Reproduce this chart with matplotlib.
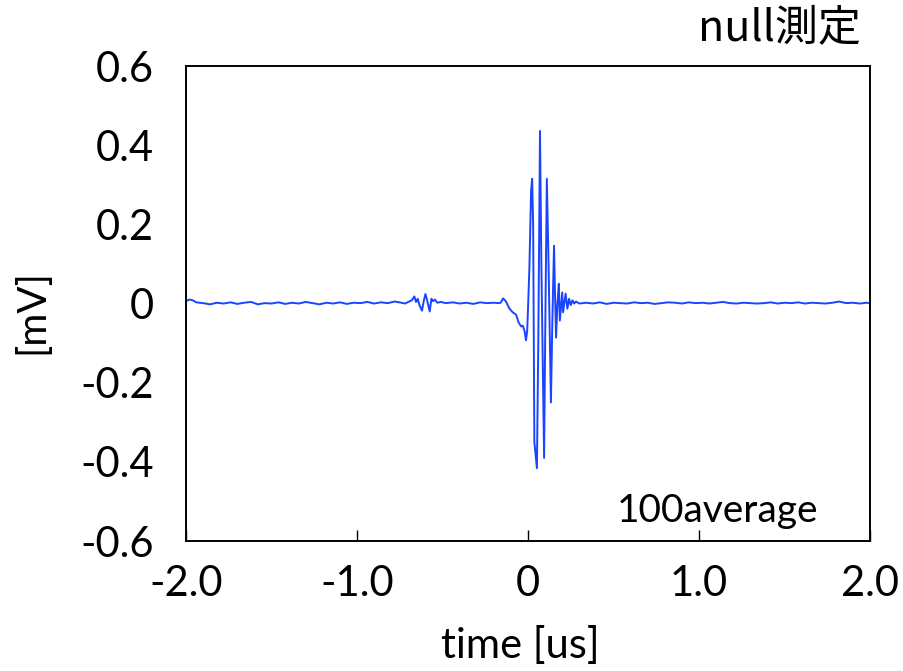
import matplotlib
matplotlib.use("Agg")
import matplotlib.pyplot as plt
from matplotlib.ticker import FixedLocator, FixedFormatter

# ---- data ----
time_us = [
    -2.00, -1.98, -1.96, -1.94, -1.90, -1.86, -1.82, -1.78, -1.74, -1.70, -1.66, -1.62,
    -1.58, -1.54, -1.50, -1.46, -1.42, -1.38, -1.34, -1.30, -1.26, -1.22, -1.18, -1.14,
    -1.10, -1.06, -1.02, -0.98, -0.94, -0.90, -0.86, -0.82, -0.78, -0.74,
    -0.72, -0.70, -0.68, -0.665, -0.655, -0.645, -0.635, -0.62, -0.61, -0.60, -0.59,
    -0.575, -0.565, -0.555, -0.545, -0.53, -0.51,
    -0.48, -0.44, -0.40, -0.36, -0.32, -0.28, -0.24, -0.20, -0.17,
    -0.16, -0.146, -0.13, -0.11, -0.09, -0.07, -0.055, -0.04, -0.03, -0.02, -0.012,
    -0.005, 0.000, 0.008, 0.018, 0.024, 0.030, 0.037, 0.052, 0.060, 0.070, 0.078,
    0.094, 0.100, 0.110, 0.120, 0.134, 0.142, 0.152, 0.158, 0.164, 0.172, 0.180,
    0.186, 0.200, 0.205, 0.220, 0.230, 0.240, 0.250, 0.260, 0.270, 0.280, 0.300,
    0.34, 0.38, 0.42, 0.46, 0.50, 0.54, 0.58, 0.62, 0.66, 0.70, 0.74, 0.78, 0.82,
    0.86, 0.90, 0.94, 0.98, 1.02, 1.06, 1.10, 1.14, 1.18, 1.22, 1.26, 1.30, 1.34,
    1.38, 1.42, 1.46, 1.50, 1.54, 1.58, 1.62, 1.66, 1.70, 1.74, 1.78, 1.82, 1.86,
    1.90, 1.94, 1.98, 2.00,
]
signal_mV = [
    0.006, 0.010, 0.008, 0.003, 0.001, -0.002, 0.002, 0.000, 0.003, -0.001, 0.002, 0.004,
    -0.002, 0.001, 0.000, 0.003, -0.001, 0.002, 0.000, 0.004, 0.001, -0.002, 0.002, 0.000,
    0.003, -0.001, 0.002, 0.001, 0.004, 0.000, 0.003, 0.001, 0.005, 0.002,
    0.000, 0.004, 0.008, 0.018, 0.004, 0.012, -0.004, -0.018, 0.006, 0.024, 0.008,
    -0.020, 0.012, 0.006, 0.010, 0.002, 0.004,
    0.001, 0.003, 0.000, 0.002, -0.001, 0.003, 0.001, 0.002, 0.001,
    0.002, 0.013, 0.006, -0.012, -0.022, -0.028, -0.048, -0.058, -0.056, -0.070, -0.093,
    -0.070, -0.012, 0.090, 0.285, 0.315, 0.200, -0.350, -0.416, -0.100, 0.436, 0.100,
    -0.390, -0.100, 0.315, 0.100, -0.250, -0.050, 0.146, 0.020, -0.086, 0.000, 0.050,
    -0.043, 0.028, -0.022, 0.025, -0.013, 0.012, -0.004, 0.008, 0.000, 0.005, 0.000,
    0.002, 0.000, 0.003, -0.001, 0.002, 0.001, 0.000, 0.003, 0.001, 0.002, -0.001, 0.001, 0.003,
    0.002, 0.000, 0.003, 0.001, 0.002, 0.000, 0.002, 0.004, 0.001, 0.000, 0.002, 0.001, 0.000,
    0.001, 0.003, 0.000, 0.002, 0.001, 0.003, 0.000, 0.002, 0.001, 0.000, 0.002, 0.005, 0.001,
    0.002, 0.000, 0.002, 0.001,
]

x_ticks = [-2.0, -1.0, 0.0, 1.0, 2.0]
x_tick_labels = ["-2.0", "-1.0", "0", "1.0", "2.0"]
y_ticks = [0.6, 0.4, 0.2, 0.0, -0.2, -0.4, -0.6]
y_tick_labels = ["0.6", "0.4", "0.2", "0", "-0.2", "-0.4", "-0.6"]

title_text = "null測定"
note_text = "100average"
x_label = "time [us]"
y_label = "[mV]"

# ---- figure ----
font = ["Lato", "DejaVu Sans"]
plt.rcParams["font.family"] = font

fig = plt.figure(figsize=(9.04, 6.71), dpi=100)
ax = fig.add_axes([0.2058, 0.1937, 0.7566, 0.7079])

ax.plot(time_us, signal_mV, color="#1a44ff", linewidth=1.4)

ax.set_xlim(-2.0, 2.0)
ax.set_ylim(-0.6, 0.6)

ax.xaxis.set_major_locator(FixedLocator(x_ticks))
ax.xaxis.set_major_formatter(FixedFormatter(x_tick_labels))
ax.yaxis.set_major_locator(FixedLocator(y_ticks))
ax.yaxis.set_major_formatter(FixedFormatter(y_tick_labels))

ax.tick_params(axis="x", direction="in", length=8, width=1.0, labelsize=30, pad=17)
ax.tick_params(axis="y", direction="in", length=0, labelsize=30, pad=23)

for s in ax.spines.values():
    s.set_linewidth(1.4)
    s.set_color("black")

fig.text(520 / 904, 1 - 645 / 671, x_label, ha="center", va="center", fontsize=30)
fig.text(32 / 904, 1 - 312 / 671, y_label, ha="center", va="center", fontsize=29,
         rotation=90)

ax.text(0.924, 0.04, note_text, transform=ax.transAxes, ha="right", va="baseline",
        fontsize=28)

fig.text(0.952, 0.958, title_text, ha="right", va="center", fontsize=31,
         family=["Noto Sans CJK JP", "DejaVu Sans"])

fig.savefig("out.png", dpi=100)
